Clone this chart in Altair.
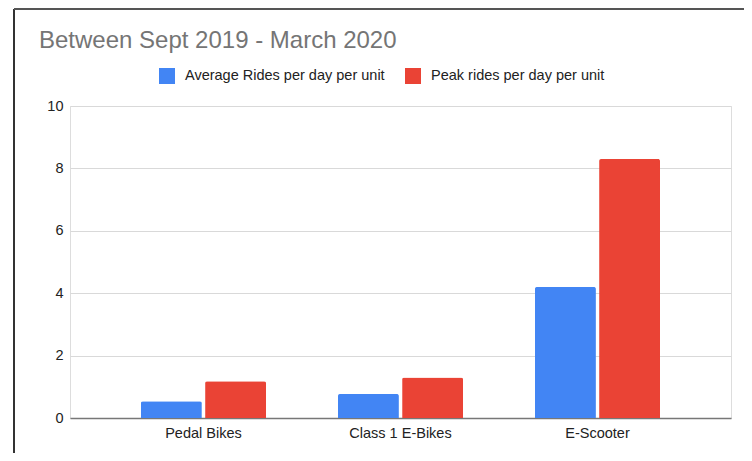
import altair as alt
import pandas as pd

categories = ["Pedal Bikes", "Class 1 E-Bikes", "E-Scooter"]
series = ["Average Rides per day per unit", "Peak rides per day per unit"]
avg_values = [0.54, 0.77, 4.2]
peak_values = [1.18, 1.3, 8.3]
colors = ["#4285F4", "#EA4335"]
y_ticks = [0, 2, 4, 6, 8, 10]
title_text = "Between Sept 2019 - March 2020"

rows = []
for i, c in enumerate(categories):
    rows.append({"category": c, "series": series[0], "value": avg_values[i]})
    rows.append({"category": c, "series": series[1], "value": peak_values[i]})
df = pd.DataFrame(rows)

FONT = "Liberation Sans"
FS = 14.5

bars = alt.Chart(df).mark_bar(cornerRadiusTopLeft=2, cornerRadiusTopRight=2).encode(
    x=alt.X("category:N", sort=categories, title=None,
            scale=alt.Scale(paddingInner=0.365, paddingOuter=0.36),
            axis=alt.Axis(labelAngle=0, ticks=False, domain=True, domainColor="#777777",
                          domainWidth=1.5, labelPadding=8, labelFontSize=FS,
                          labelColor="#222222", labelFont=FONT, grid=False)),
    xOffset=alt.XOffset("series:N", sort=series, scale=alt.Scale(paddingInner=0.05)),
    y=alt.Y("value:Q", title=None,
            scale=alt.Scale(domain=[0, 10], nice=False),
            axis=alt.Axis(values=y_ticks, ticks=False, domain=False, labelPadding=7,
                          labelFontSize=FS, labelColor="#222222", labelFont=FONT,
                          gridColor="#d9d9d9", gridWidth=1)),
    color=alt.Color("series:N", sort=series,
                    scale=alt.Scale(domain=series, range=colors),
                    legend=alt.Legend(title=None, orient="none", legendX=89, legendY=-38,
                                      direction="horizontal", symbolType="square",
                                      symbolSize=256, symbolStrokeWidth=0,
                                      labelFontSize=FS, labelColor="#222222",
                                      labelFont=FONT, labelOffset=10, columnPadding=20,
                                      labelLimit=400)),
)

one = pd.DataFrame({"a": [0]})

title = alt.Chart(one).mark_text(
    text=title_text, align="left", baseline="alphabetic", fontSize=24,
    color="#757575", font=FONT
).encode(x=alt.value(-31), y=alt.value(-58))

left_border = alt.Chart(one).mark_rule(color="#333333", strokeWidth=2).encode(
    x=alt.value(-56), y=alt.value(-97), y2=alt.value(347))
top_border = alt.Chart(one).mark_rule(color="#555555", strokeWidth=2).encode(
    x=alt.value(-56), x2=alt.value(674), y=alt.value(-97))

chart = alt.layer(bars, title, left_border, top_border).properties(
    width=661, height=312,
    autosize=alt.AutoSizeParams(type="none"),
    padding={"left": 62, "top": 98, "right": 13, "bottom": 35},
).configure_view(stroke=None).configure(background="white")

chart.save("out.html", embed_options={"renderer": "svg", "actions": False})
